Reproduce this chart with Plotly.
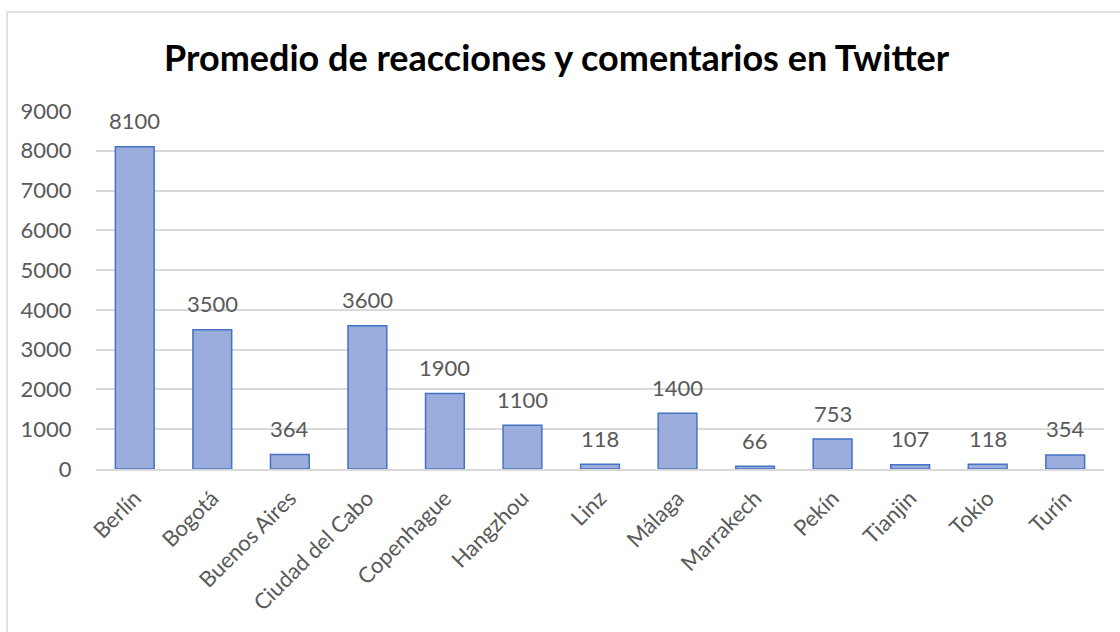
import plotly.graph_objects as go

cities = ["Berlín", "Bogotá", "Buenos Aires", "Ciudad del Cabo", "Copenhague", "Hangzhou",
          "Linz", "Málaga", "Marrakech", "Pekín", "Tianjin", "Tokio", "Turín"]
values = [8100, 3500, 364, 3600, 1900, 1100, 118, 1400, 66, 753, 107, 118, 354]
y_ticks = [0, 1000, 2000, 3000, 4000, 5000, 6000, 7000, 8000, 9000]

W, H = 1120, 632
ml, mr, mt, mb = 96, 16, 111, 163
pw, ph = W - ml - mr, H - mt - mb

def px_x(x):
    return (x - ml) / pw

def px_y(y):
    return (H - mb - y) / ph

FONT = "Lato, Open Sans, sans-serif"
GREY = "#595959"

fig = go.Figure()
fig.add_trace(go.Bar(
    x=cities, y=values,
    marker=dict(color="#9aaddd", line=dict(color="#4472c4", width=1.5)),
    cliponaxis=False,
))

for c, v in zip(cities, values):
    fig.add_annotation(x=c, y=v, text=str(v), showarrow=False,
                       xanchor="center", yanchor="middle", yshift=26,
                       font=dict(family=FONT, size=22, color=GREY))

fig.update_layout(
    width=W, height=H,
    margin=dict(l=ml, r=mr, t=mt, b=mb),
    paper_bgcolor="white", plot_bgcolor="white",
    bargap=0.5,
    showlegend=False,
    title=dict(text="<b>Promedio de reacciones y comentarios en Twitter</b>",
               x=0.497, xanchor="center", y=1 - 58 / H, yanchor="middle",
               font=dict(family=FONT, size=36, color="#000000")),
    xaxis=dict(tickangle=-45, tickfont=dict(family=FONT, size=22, color=GREY),
               showline=True, linecolor="#d9d9d9", linewidth=1.5, ticks="", showgrid=False,
               ticklabelstandoff=6),
    yaxis=dict(range=[0, 9000], tickvals=y_ticks, ticktext=[str(v) for v in y_ticks],
               tickfont=dict(family=FONT, size=22, color=GREY),
               gridcolor="#d9d9d9", gridwidth=1.5, zeroline=False, showline=False,
               ticks="outside", ticklen=19, tickcolor="rgba(0,0,0,0)"),
    font=dict(family=FONT),
    shapes=[dict(type="rect", xref="paper", yref="paper",
                 x0=px_x(7), x1=px_x(1130), y0=px_y(650), y1=px_y(12),
                 line=dict(color="#d9d9d9", width=1.5), fillcolor="rgba(0,0,0,0)", layer="below")],
)

fig.write_html("out.html")
